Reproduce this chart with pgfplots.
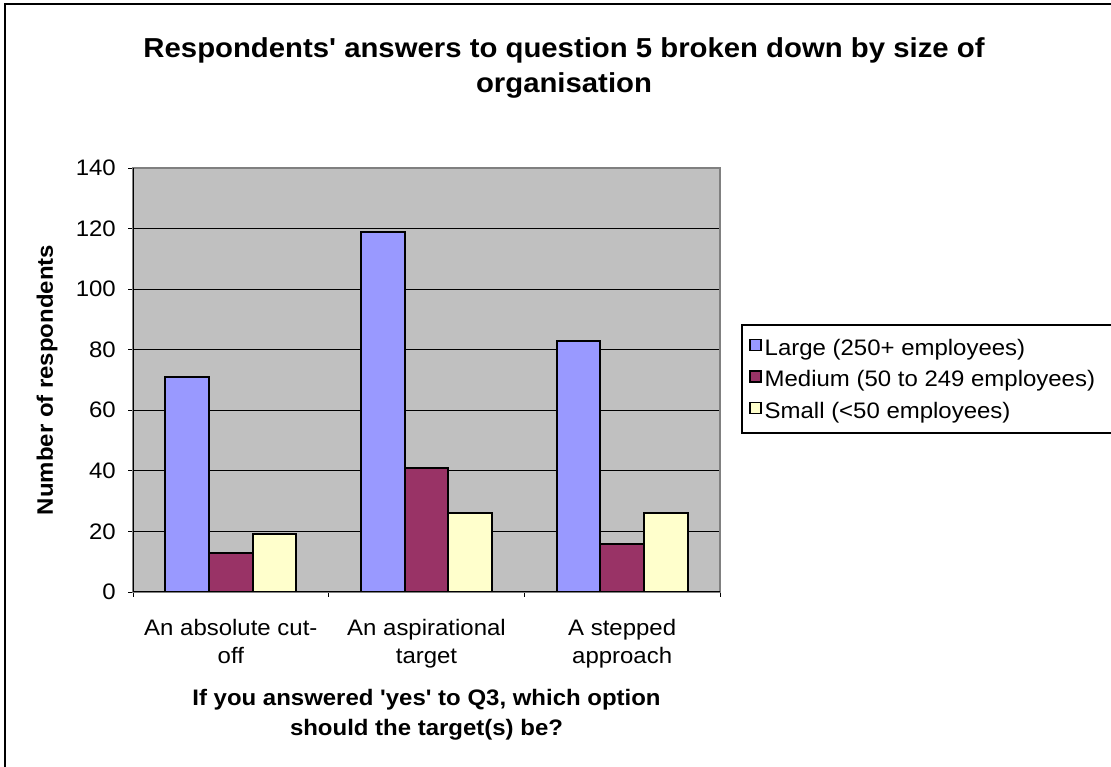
\documentclass[border=0pt]{standalone}
\usepackage{pgfplots}
\pgfplotsset{compat=1.18}
\usepackage{fontspec}
\setmainfont[FakeStretch=1.07, Ligatures=TeXOff]{Liberation Sans}
\definecolor{cLarge}{HTML}{9999FF}
\definecolor{cMed}{HTML}{993366}
\definecolor{cSmall}{HTML}{FFFFCC}
\definecolor{cBg}{HTML}{C0C0C0}
\definecolor{cFrame}{HTML}{808080}
\newcommand\bodyfont{\fontsize{22.4bp}{28bp}\selectfont}
\pgfplotsset{sqleg/.style={legend image code/.code={\draw[##1,line width=1.5bp] (0bp,4.5bp) rectangle (11bp,15.5bp);}}}
\begin{document}
\begin{tikzpicture}[x=1bp,y=1bp]
\clip (0,0) rectangle (1111,767);
\fill[white] (0,0) rectangle (1111,767);
\draw[line width=1.5bp] (5,0) -- (5,763) -- (1111,763);
\node[font=\bfseries\fontsize{27.4bp}{35bp}\selectfont, anchor=base] at (564,709) {Respondents' answers to question 5 broken down by size of};
\node[font=\bfseries\fontsize{27.4bp}{35bp}\selectfont, anchor=base] at (564,674) {organisation};
\draw[line width=1.2bp] (742,442) rectangle (1130,334);
\begin{axis}[
  at={(133bp,175bp)}, anchor=south west,
  width=587bp, height=424bp, scale only axis,
  xmin=-0.5, xmax=2.5, ymin=0, ymax=140,
  ytick={0,20,...,140},
  xtick={0,1,2},
  xticklabels={{An absolute cut-\\off},{An aspirational\\target},{A stepped\\approach}},
  minor xtick={-0.5,0.5,1.5,2.5},
  major x tick style={draw=none},
  tick align=outside, tick pos=left,
  major tick length=5bp, minor tick length=5bp,
  tick style={black, line width=0.8bp},
  ymajorgrids, grid style={black, line width=1bp},
  axis background/.style={fill=cBg},
  axis line style={cFrame, line width=2bp},
  ybar=0pt, bar width=43.6bp,
  /pgf/number format/assume math mode=true,
  ticklabel style={font=\bodyfont},
  xticklabel style={align=center, anchor=north, inner sep=0pt, yshift=-22bp},
  yticklabel style={anchor=east, inner sep=0pt, xshift=-12bp},
  ylabel={Number of respondents},
  ylabel style={font=\bfseries\bodyfont, at={(axis description cs:-0.1465,0.5)}, anchor=center},
  xlabel={If you answered 'yes' to Q3, which option\\should the target(s) be?},
  xlabel style={font=\bfseries\fontsize{22.4bp}{30bp}\selectfont, align=center, at={(axis description cs:0.5,-0.2278)}, anchor=north, inner sep=0pt},
  legend style={draw=none, fill=none, at={(axis description cs:1.0494,0.5973)}, anchor=north west, inner sep=0pt, font=\bodyfont, row sep=10.75bp, nodes={anchor=base west, inner sep=0pt, text height=16bp, text depth=4.5bp}, /tikz/every odd column/.append style={column sep=3bp}},
]
\addplot[sqleg, draw=black, line width=2bp, fill=cLarge] coordinates {(0,71) (1,119) (2,83)};
\addplot[sqleg, draw=black, line width=2bp, fill=cMed] coordinates {(0,13) (1,41) (2,16)};
\addplot[sqleg, draw=black, line width=2bp, fill=cSmall] coordinates {(0,19) (1,26) (2,26)};
\addlegendentry{Large (250+ employees)}
\addlegendentry{Medium (50 to 249 employees)}
\addlegendentry{Small (<50 employees)}
\draw[black, line width=1.2bp] (rel axis cs:0,0) -- (rel axis cs:0,1);
\draw[black, line width=1.2bp] (rel axis cs:0,0) -- (rel axis cs:1,0);
\end{axis}
\end{tikzpicture}
\end{document}
